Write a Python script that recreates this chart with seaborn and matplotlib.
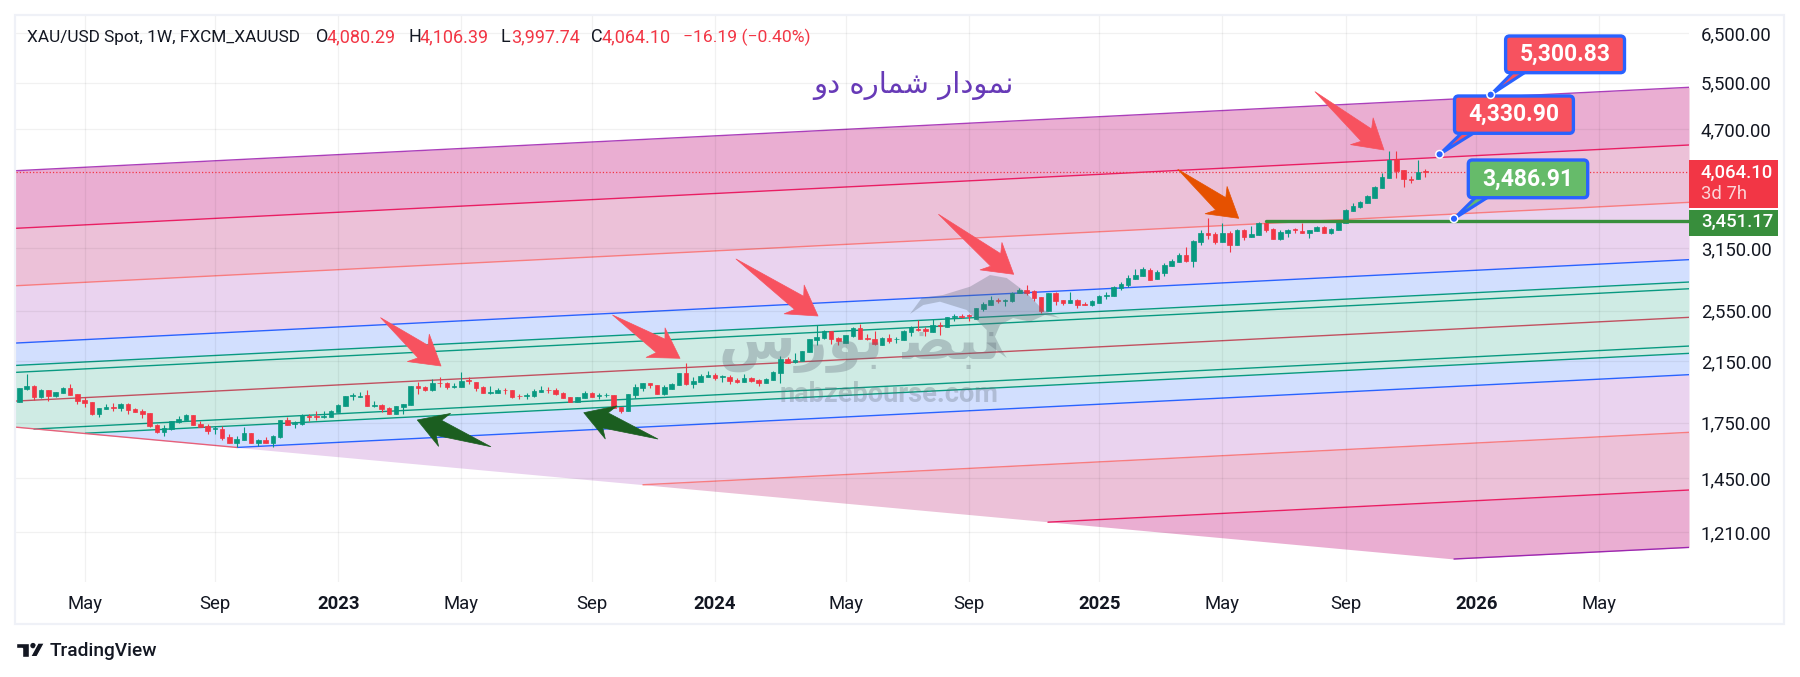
import matplotlib
matplotlib.use("Agg")
import matplotlib.pyplot as plt
from matplotlib.patches import Circle, FancyBboxPatch, Polygon, Rectangle
import numpy as np
import seaborn as sns

# ---------------------------------------------------------------------------
# Weekly candles
# ---------------------------------------------------------------------------
opens = [
    1875, 1960, 1979, 1908, 1951, 1914, 1935, 1966, 1925, 1888,
    1875, 1803, 1834, 1844, 1838, 1863, 1832, 1820, 1807, 1736,
    1697, 1713, 1755, 1765, 1795, 1742, 1730, 1715, 1713, 1666,
    1633, 1650, 1689, 1633, 1650, 1633, 1666, 1763, 1742, 1742,
    1789, 1789, 1785, 1783, 1813, 1850, 1914, 1910, 1920, 1850,
    1857, 1838, 1801, 1844, 1857, 1977, 1973, 1953, 2002, 1999,
    1975, 1975, 2018, 2007, 1973, 1935, 1935, 1955, 1951, 1916,
    1914, 1914, 1942, 1955, 1955, 1933, 1908, 1877, 1901, 1933,
    1916, 1918, 1920, 1844, 1820, 1920, 1966, 1999, 1986, 1927,
    1962, 1986, 2067, 1993, 2007, 2042, 2054, 2040, 2040, 2022,
    2007, 2036, 2020, 1999, 2020, 2067, 2168, 2148, 2153,
    2221, 2312, 2325, 2378, 2330, 2289, 2343, 2404, 2328, 2320,
    2273, 2325, 2317, 2312, 2375, 2399, 2394, 2375, 2431, 2418,
    2501, 2507, 2512, 2484, 2566, 2601, 2645, 2639, 2633, 2705,
    2733, 2723, 2672, 2549, 2708, 2645, 2619, 2645, 2610, 2601,
    2619, 2681, 2681, 2754, 2783, 2840, 2871, 2930, 2840, 2897,
    2966, 3007, 3078, 3017,
    3216, 3314, 3303, 3216, 3314, 3184, 3348, 3273, 3292, 3427,
    3359, 3248, 3318, 3359, 3337, 3318, 3337, 3382, 3314, 3348,
    3427, 3573, 3614, 3666, 3729, 3856, 3988, 4246, 4097, 3971, 3975, 4080.29,
]
highs = [
    1964, 2060, 1984, 1957, 1953, 1940, 1971, 1993, 1927, 1906,
    1877, 1840, 1861, 1869, 1867, 1871, 1840, 1830, 1807, 1742,
    1736, 1759, 1789, 1801, 1795, 1759, 1740, 1730, 1728, 1683,
    1672, 1724, 1691, 1655, 1666, 1677, 1765, 1781, 1757, 1801,
    1801, 1822, 1818, 1824, 1861, 1914, 1931, 1937, 1953, 1882,
    1861, 1842, 1850, 1863, 1979, 2004, 1977, 2024, 2040, 2009,
    1997, 2074, 2038, 2009, 1977, 1979, 1966, 1966, 1955, 1929,
    1931, 1960, 1979, 1973, 1964, 1940, 1908, 1910, 1947, 1940,
    1931, 1935, 1923, 1846, 1927, 1995, 2002, 1999, 1986, 1988,
    2002, 2067, 2138, 2042, 2058, 2081, 2070, 2054, 2054, 2031,
    2060, 2040, 2024, 2031, 2079, 2190, 2180, 2209, 2227,
    2320, 2429, 2391, 2383, 2338, 2351, 2412, 2440, 2359, 2383,
    2333, 2359, 2335, 2386, 2423, 2473, 2418, 2479, 2453, 2501,
    2521, 2524, 2524, 2575, 2622, 2678, 2666, 2657, 2720, 2757,
    2783, 2736, 2675, 2711, 2720, 2645, 2717, 2651, 2627, 2645,
    2687, 2714, 2773, 2814, 2878, 2936, 2953, 2943, 2926, 3000,
    3034, 3095, 3165, 3237,
    3348, 3485, 3329, 3427, 3337, 3359, 3355, 3393, 3438, 3438,
    3366, 3348, 3359, 3370, 3424, 3348, 3393, 3393, 3374, 3446,
    3593, 3662, 3696, 3770, 3882, 4050, 4369, 4369, 4097, 4010, 4237, 4106.39,
]
lows = [
    1875, 1953, 1888, 1901, 1882, 1908, 1933, 1920, 1865, 1846,
    1797, 1783, 1832, 1822, 1820, 1803, 1813, 1779, 1726, 1691,
    1672, 1707, 1750, 1763, 1736, 1722, 1684, 1685, 1652, 1635,
    1609, 1650, 1633, 1617, 1633, 1613, 1662, 1736, 1718, 1738,
    1759, 1765, 1777, 1781, 1811, 1850, 1888, 1908, 1850, 1842,
    1813, 1803, 1801, 1801, 1857, 1927, 1949, 1949, 1973, 1960,
    1966, 1973, 1995, 1949, 1933, 1929, 1933, 1925, 1901, 1892,
    1895, 1908, 1940, 1935, 1923, 1901, 1877, 1875, 1901, 1906,
    1892, 1906, 1838, 1807, 1820, 1899, 1947, 1966, 1927, 1920,
    1960, 1986, 1986, 1966, 2007, 2040, 2020, 2009, 1993, 1999,
    2007, 2007, 1979, 1999, 2020, 2002, 2138, 2141, 2153,
    2221, 2273, 2317, 2281, 2273, 2286, 2338, 2320, 2312, 2273,
    2273, 2286, 2286, 2312, 2343, 2380, 2343, 2370, 2351, 2418,
    2467, 2487, 2467, 2484, 2544, 2601, 2616, 2595, 2630, 2705,
    2690, 2639, 2529, 2549, 2601, 2604, 2619, 2578, 2601, 2595,
    2616, 2651, 2681, 2733, 2760, 2840, 2868, 2824, 2840, 2868,
    2966, 3007, 3010, 2950,
    3187, 3248, 3198, 3216, 3111, 3184, 3237, 3273, 3288, 3325,
    3248, 3237, 3273, 3314, 3314, 3262, 3333, 3314, 3303, 3348,
    3427, 3569, 3610, 3662, 3729, 3856, 3988, 3988, 3869, 3921, 3975, 3997.74,
]
closes = [
    1964, 1979, 1908, 1953, 1914, 1940, 1964, 1920, 1882, 1869,
    1803, 1838, 1842, 1840, 1861, 1828, 1813, 1803, 1730, 1697,
    1718, 1759, 1771, 1797, 1736, 1722, 1701, 1718, 1661, 1635,
    1655, 1689, 1633, 1650, 1633, 1672, 1763, 1738, 1748, 1793,
    1785, 1785, 1789, 1820, 1857, 1914, 1918, 1916, 1850, 1857,
    1832, 1803, 1850, 1863, 1979, 1966, 1953, 1999, 1997, 1973,
    1979, 2013, 2013, 1968, 1935, 1940, 1953, 1951, 1910, 1912,
    1920, 1947, 1953, 1951, 1927, 1901, 1877, 1906, 1931, 1908,
    1920, 1923, 1838, 1820, 1927, 1973, 1999, 1984, 1927, 1973,
    1993, 2067, 1993, 2013, 2047, 2054, 2033, 2045, 2013, 2009,
    2033, 2013, 1999, 2027, 2074, 2168, 2141, 2160, 2227,
    2320, 2333, 2378, 2320, 2304, 2351, 2407, 2320, 2320, 2276,
    2328, 2304, 2322, 2380, 2412, 2388, 2380, 2428, 2423, 2495,
    2507, 2493, 2507, 2572, 2610, 2645, 2639, 2645, 2711, 2739,
    2711, 2666, 2547, 2705, 2639, 2619, 2642, 2604, 2604, 2639,
    2681, 2690, 2760, 2795, 2849, 2878, 2933, 2830, 2907, 2979,
    3017, 3078, 3017, 3226,
    3314, 3292, 3216, 3314, 3187, 3348, 3270, 3303, 3427, 3348,
    3248, 3325, 3348, 3352, 3318, 3344, 3382, 3318, 3359, 3438,
    3581, 3630, 3680, 3753, 3869, 4001, 4237, 4083, 3975, 3966, 4069, 4064.10,
]

# Fib channel lines, top to bottom: first bar, first price, last price
line_start_bar = [-0.52, -0.52, -0.52, -0.52, -0.52, -0.52, -0.52, 2.03, 9.13, 30.04, 86.05, 141.93, 197.95]
line_start_price = [4087, 3366, 2774, 2287, 2121, 2072, 1881, 1712, 1688, 1609, 1419, 1251, 1105]
line_end_price = [5413, 4457, 3674, 3029, 2809, 2746, 2494, 2264, 2209, 2056, 1693, 1394, 1149]
line_colors = ["#AB3FBA", "#E91E63", "#F77C80", "#2962FF", "#089981", "#089981", "#C0505F",
               "#089981", "#089981", "#2962FF", "#F77C80", "#E91E63", "#9C27B0"]
band_colors = ["#EAAED2", "#ECC1D8", "#EAD3EF", "#D2DFFE", "#CFEBE4", "#CFEBE4",
               "#CFEBE4", "#CFEBE4", "#D2DFFE", "#EAD3EF", "#ECC1D8", "#EAAED2"]
# lower diagonal edge of the channel
diag_bars = [-0.52, 197.95]
diag_prices = [1723, 1105]
diag_line_end_bar = 30.04
diag_line_end_price = 1609

y_ticks = [6500, 5500, 4700, 3150, 2550, 2150, 1750, 1450, 1210]
x_tick_bars = [9, 27, 44, 61, 79, 96, 114, 131, 149, 166, 183, 201, 218]
x_tick_labels = ["May", "Sep", "2023", "May", "Sep", "2024", "May", "Sep", "2025", "May", "Sep", "2026", "May"]

last_price = 4064.10
support_price = 3451.17
support_start_bar = 172

UP = "#089981"
DOWN = "#F23645"
XMIN, XMAX = -0.52, 230.37
YMIN, YMAX = 1022.6, 6906

sns.set_theme(style="white")
plt.rcParams["font.family"] = ["Roboto", "DejaVu Sans"]

fig = plt.figure(figsize=(18, 6.77), dpi=100, facecolor="white")
ax = fig.add_axes([15.5 / 1800, (677 - 582) / 677, (1689 - 15.5) / 1800, (582 - 15) / 677])
ax.set_yscale("log")
ax.set_xlim(XMIN, XMAX)
ax.set_ylim(YMIN, YMAX)

# ---------------------------------------------------------------------------
# Channel bands and lines
# ---------------------------------------------------------------------------
grid_x = np.linspace(XMIN, XMAX, 800)


def log_line(x0, p0, x1, p1):
    return np.log(p0) + (grid_x - x0) * (np.log(p1) - np.log(p0)) / (x1 - x0)


diag = log_line(diag_bars[0], diag_prices[0], diag_bars[1], diag_prices[1])
levels = [
    log_line(b, p0, XMAX, p1) for b, p0, p1 in zip(line_start_bar, line_start_price, line_end_price)
]
for k, color in enumerate(band_colors):
    upper = np.maximum(levels[k], diag)
    lower = np.maximum(levels[k + 1], diag)
    ax.fill_between(grid_x, np.exp(lower), np.exp(upper), color=color, lw=0, zorder=1)

for b, p0, p1, color in zip(line_start_bar, line_start_price, line_end_price, line_colors):
    sns.lineplot(x=[b, XMAX], y=[p0, p1], color=color, lw=1.0, ax=ax, legend=False,
                 estimator=None, sort=False, zorder=2)
sns.lineplot(x=[diag_bars[0], diag_line_end_bar], y=[diag_prices[0], diag_line_end_price], color="#E8607A",
             lw=1.0, ax=ax, legend=False, estimator=None, sort=False, zorder=2)

# ---------------------------------------------------------------------------
# Candles
# ---------------------------------------------------------------------------
bars = np.arange(len(closes))
o, h, l, c = map(np.array, (opens, highs, lows, closes))
colors = np.where(c >= o, UP, DOWN)
ax.vlines(bars, l, h, colors=colors, lw=0.8, zorder=3)
ax.bar(bars, np.abs(c - o), bottom=np.minimum(o, c), width=0.62, color=colors,
       edgecolor=colors, lw=0.5, zorder=3)

ax.plot([XMIN, XMAX], [last_price, last_price], color=DOWN, ls=":", lw=0.9, zorder=2.6)
ax.plot([support_start_bar, XMAX], [support_price, support_price], color="#388E3C", lw=2.4, zorder=4)

# ---------------------------------------------------------------------------
# Axes
# ---------------------------------------------------------------------------
ax.set_axisbelow(False)
ax.yaxis.tick_right()
ax.set_yticks(y_ticks)
ax.set_yticklabels([f"{v:,.2f}" for v in y_ticks])
ax.minorticks_off()
ax.set_xticks(x_tick_bars)
ax.set_xticklabels(x_tick_labels)
ax.tick_params(axis="y", length=0, pad=8.5, labelsize=13.3, labelcolor="#131722")
ax.tick_params(axis="x", length=0, pad=9.5, labelsize=13.3, labelcolor="#131722")
for tick in ax.get_xticklabels():
    if tick.get_text().isdigit():
        tick.set_fontweight("bold")
ax.grid(True, color="black", alpha=0.055, lw=0.9)
for spine in ax.spines.values():
    spine.set_visible(False)

# ---------------------------------------------------------------------------
# Drawing objects on top, placed in figure pixels
# ---------------------------------------------------------------------------
top = fig.add_axes([0, 0, 1, 1])
top.set_xlim(0, 1800)
top.set_ylim(677, 0)
top.axis("off")
top.patch.set_alpha(0)

top.add_patch(Rectangle((15, 15), 1769, 609, fill=False, ec="#EFF1F7", lw=1.6))

# watermark
bull = [(910, 314), (921.7, 298), (943, 295), (970, 286.7), (990, 275), (1006.7, 278), (1026.7, 293),
        (1043, 310), (1060, 318), (1045, 315), (1030, 321.7), (1013, 318), (1000, 325), (995, 336.7),
        (1001.7, 350), (1006.7, 358), (986.7, 343), (986.7, 330), (966.7, 310), (940, 301.7), (923.3, 305)]
top.add_patch(Polygon(bull, closed=True, fc="#5F6B78", ec="none", alpha=0.32))
# presentation forms in visual order, matplotlib does not shape Arabic
wm_text = "\uFEB1\uFEAD\uFEEE\uFE91 \uFEC0\uFE92\uFEE7"
top.text(860, 346, wm_text, family="DejaVu Sans", fontsize=40, fontweight="bold", color="#5F6B78",
         alpha=0.32, ha="center", va="center")
top.text(889, 394, "nabzebourse.com", fontsize=19.5, fontweight="bold", color="#5F6B78", alpha=0.3,
         ha="center", va="center")


def arrow(tail, tip, color):
    tail = np.array(tail, float)
    tip = np.array(tip, float)
    along = (tip - tail) / np.linalg.norm(tip - tail)
    side = np.array([-along[1], along[0]])
    pts = [tail,
           tip - 23 * along + 8 * side,
           tip - 29 * along + 17.5 * side,
           tip,
           tip - 29 * along - 17.5 * side,
           tip - 23 * along - 8 * side]
    top.add_patch(Polygon(pts, closed=True, fc=color, ec=color, lw=0.5, joinstyle="round", zorder=5))


for tail, tip in [((380.6, 317.7), (441, 366)), ((612.5, 315), (680, 358.3)), ((736, 259), (818, 316)),
                  ((938.5, 214.3), (1013.7, 274.3)), ((1315, 91.7), (1384, 150))]:
    arrow(tail, tip, "#F7525F")
arrow((1177.8, 169.3), (1238.7, 218.3), "#E65100")
arrow((490.8, 446.7), (417.3, 420), "#1B5E20")
arrow((657.9, 439), (583.8, 412.7), "#1B5E20")


def callout(text, left, right, upper, lower, anchor, color):
    pts = [(left + 9, lower - 2), (left + 22, lower - 2), anchor]
    top.add_patch(Polygon(pts, closed=True, fc=color, ec="#2962FF", lw=2.2, zorder=6))
    top.add_patch(FancyBboxPatch((left, upper), right - left, lower - upper,
                                 boxstyle="round,pad=0,rounding_size=4",
                                 fc=color, ec="#2962FF", lw=2.4, zorder=7))
    top.text((left + right) / 2, (upper + lower) / 2, text, color="white", fontsize=16.5,
             fontweight="bold", ha="center", va="center", zorder=8)
    top.add_patch(Circle(anchor, 3.8, fc="#2962FF", ec="white", lw=1.1, zorder=9))


callout("5,300.83", 1505.6, 1624.5, 36, 72.7, (1490.7, 94.7), "#F7525F")
callout("4,330.90", 1454.5, 1573.4, 96, 133.3, (1439.6, 154.3), "#F7525F")
callout("3,486.91", 1468.3, 1587.7, 160, 197.7, (1454, 218.7), "#66BB6A")

# price labels on the scale
top.add_patch(Rectangle((1689, 160), 89, 48, fc=DOWN, ec="none"))
top.text(1700.8, 172.5, "4,064.10", color="white", fontsize=13.3, fontweight="medium", va="center")
top.text(1700.8, 194, "3d 7h", color="#FBD5D8", fontsize=13.3, va="center")
top.add_patch(Rectangle((1689, 209.5), 89, 26.2, fc="#388E3C", ec="none"))
top.text(1700.8, 222, "3,451.17", color="white", fontsize=13.3, fontweight="medium", va="center")

# title, same shaping note as the watermark
title_text = "\uFEED\uFEA9 \uFEE9\uFEAD\uFE8E\uFEE4\uFEB7 \uFEAD\uFE8D\uFEA9\uFEEE\uFEE4\uFEE7"
top.text(913, 85, title_text, family="DejaVu Sans", fontsize=21, color="#673AB7", ha="center", va="center")

# legend row at the top left
BLACK = "#131722"
for x, text, color, size in [(27, "XAU/USD Spot, 1W, FXCM_XAUUSD", BLACK, 12.4),
                             (315.7, "O", BLACK, 13), (327, "4,080.29", DOWN, 13),
                             (408.7, "H", BLACK, 13), (420, "4,106.39", DOWN, 13),
                             (501, "L", BLACK, 13), (511, "3,997.74", DOWN, 13),
                             (591, "C", BLACK, 13), (601.6, "4,064.10", DOWN, 13),
                             (683, "\u221216.19 (\u22120.40%)", DOWN, 12.6)]:
    top.text(x, 37.5, text, color=color, fontsize=size, va="center")

# TradingView mark
top.add_patch(Polygon([(15.5, 643), (29, 643), (29, 656.7), (22, 656.7), (22, 648.3), (15.5, 648.3)], fc="#131722"))
top.add_patch(Circle((33, 645.6), 2.7, fc="#131722", ec="none"))
top.add_patch(Polygon([(38, 643), (44.5, 643), (37, 656.7), (30.5, 656.7)], fc="#131722"))
top.text(50, 651.5, "TradingView", color="#131722", fontsize=13.8, fontweight="medium", va="center")

fig.savefig("out.png", dpi=100, facecolor="white")
plt.close(fig)
